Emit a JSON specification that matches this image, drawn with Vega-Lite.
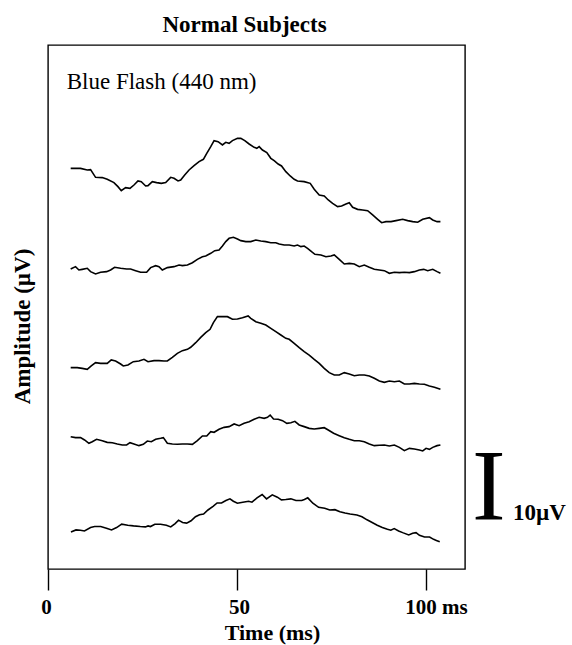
{
  "$schema": "https://vega.github.io/schema/vega-lite/v6.json",
  "width": 417,
  "height": 524,
  "autosize": {"type": "none"},
  "padding": {"left": 48, "top": 45, "right": 107, "bottom": 76},
  "background": "white",
  "config": {
    "view": {"stroke": "black", "strokeWidth": 1.4},
    "font": "Liberation Serif"
  },
  "title": {
    "text": "Normal Subjects",
    "font": "Liberation Serif",
    "fontSize": 23,
    "fontWeight": "bold",
    "color": "black",
    "anchor": "middle",
    "frame": "group",
    "baseline": "alphabetic",
    "offset": 15,
    "dx": -12,
    "dy": 25
  },
  "datasets": {
    "traces": [
      {"trace": 1, "t": 6.0, "v": 60.7}, {"trace": 1, "t": 8.61, "v": 60.7}, {"trace": 1, "t": 10.38, "v": 60.45}, {"trace": 1, "t": 11.26, "v": 60.5},
      {"trace": 1, "t": 12.58, "v": 59.34}, {"trace": 1, "t": 14.35, "v": 59.3}, {"trace": 1, "t": 15.67, "v": 59.04}, {"trace": 1, "t": 17.44, "v": 58.54},
      {"trace": 1, "t": 18.5, "v": 57.93}, {"trace": 1, "t": 19.38, "v": 57.32}, {"trace": 1, "t": 20.53, "v": 57.78}, {"trace": 1, "t": 21.68, "v": 57.68},
      {"trace": 1, "t": 22.74, "v": 58.18}, {"trace": 1, "t": 23.8, "v": 58.79}, {"trace": 1, "t": 24.68, "v": 58.69}, {"trace": 1, "t": 25.83, "v": 58.03},
      {"trace": 1, "t": 26.45, "v": 58.08}, {"trace": 1, "t": 27.59, "v": 58.69}, {"trace": 1, "t": 28.74, "v": 58.54}, {"trace": 1, "t": 29.98, "v": 58.43},
      {"trace": 1, "t": 31.13, "v": 58.54}, {"trace": 1, "t": 32.45, "v": 59.34}, {"trace": 1, "t": 33.33, "v": 59.19}, {"trace": 1, "t": 34.39, "v": 58.79},
      {"trace": 1, "t": 35.1, "v": 58.94}, {"trace": 1, "t": 36.16, "v": 59.7}, {"trace": 1, "t": 37.31, "v": 60.45}, {"trace": 1, "t": 38.63, "v": 61.1},
      {"trace": 1, "t": 39.96, "v": 61.72}, {"trace": 1, "t": 41.1, "v": 62.07}, {"trace": 1, "t": 41.99, "v": 62.98}, {"trace": 1, "t": 43.05, "v": 63.99},
      {"trace": 1, "t": 43.93, "v": 64.9}, {"trace": 1, "t": 44.99, "v": 64.75}, {"trace": 1, "t": 46.14, "v": 64.24}, {"trace": 1, "t": 47.02, "v": 64.65},
      {"trace": 1, "t": 47.9, "v": 64.5}, {"trace": 1, "t": 48.79, "v": 64.9}, {"trace": 1, "t": 50.11, "v": 65.25}, {"trace": 1, "t": 51.0, "v": 65.25},
      {"trace": 1, "t": 52.05, "v": 64.9}, {"trace": 1, "t": 53.2, "v": 64.39}, {"trace": 1, "t": 54.53, "v": 63.89}, {"trace": 1, "t": 55.23, "v": 63.74},
      {"trace": 1, "t": 55.85, "v": 63.99}, {"trace": 1, "t": 56.73, "v": 63.48}, {"trace": 1, "t": 57.88, "v": 63.08}, {"trace": 1, "t": 58.94, "v": 62.22},
      {"trace": 1, "t": 59.82, "v": 61.87}, {"trace": 1, "t": 60.88, "v": 61.36}, {"trace": 1, "t": 61.77, "v": 61.06}, {"trace": 1, "t": 62.91, "v": 60.2},
      {"trace": 1, "t": 64.06, "v": 59.55}, {"trace": 1, "t": 65.12, "v": 59.04}, {"trace": 1, "t": 66.0, "v": 58.79}, {"trace": 1, "t": 67.77, "v": 58.69},
      {"trace": 1, "t": 69.36, "v": 58.43}, {"trace": 1, "t": 70.42, "v": 57.53}, {"trace": 1, "t": 71.74, "v": 56.67}, {"trace": 1, "t": 73.07, "v": 56.52},
      {"trace": 1, "t": 74.13, "v": 55.91}, {"trace": 1, "t": 75.28, "v": 55.4}, {"trace": 1, "t": 76.6, "v": 54.9}, {"trace": 1, "t": 77.66, "v": 55.0},
      {"trace": 1, "t": 78.81, "v": 55.3}, {"trace": 1, "t": 79.69, "v": 55.5}, {"trace": 1, "t": 80.58, "v": 54.8}, {"trace": 1, "t": 81.9, "v": 54.49},
      {"trace": 1, "t": 83.22, "v": 54.39}, {"trace": 1, "t": 84.55, "v": 54.29}, {"trace": 1, "t": 85.87, "v": 53.64}, {"trace": 1, "t": 87.2, "v": 52.98},
      {"trace": 1, "t": 88.25, "v": 52.47}, {"trace": 1, "t": 89.4, "v": 52.63}, {"trace": 1, "t": 90.73, "v": 52.63}, {"trace": 1, "t": 92.05, "v": 52.78},
      {"trace": 1, "t": 93.82, "v": 52.98}, {"trace": 1, "t": 95.14, "v": 52.78}, {"trace": 1, "t": 96.47, "v": 52.63}, {"trace": 1, "t": 97.79, "v": 52.53},
      {"trace": 1, "t": 99.12, "v": 52.98}, {"trace": 1, "t": 100.88, "v": 53.23}, {"trace": 1, "t": 101.77, "v": 52.88}, {"trace": 1, "t": 102.92, "v": 52.63},
      {"trace": 1, "t": 103.8, "v": 52.63},

      {"trace": 2, "t": 6.0, "v": 45.45}, {"trace": 2, "t": 7.28, "v": 45.81}, {"trace": 2, "t": 8.17, "v": 45.3}, {"trace": 2, "t": 9.05, "v": 45.4},
      {"trace": 2, "t": 10.38, "v": 45.56}, {"trace": 2, "t": 11.26, "v": 45.05}, {"trace": 2, "t": 12.58, "v": 44.7}, {"trace": 2, "t": 13.91, "v": 44.95},
      {"trace": 2, "t": 15.5, "v": 45.05}, {"trace": 2, "t": 16.56, "v": 45.3}, {"trace": 2, "t": 17.62, "v": 45.71}, {"trace": 2, "t": 19.21, "v": 45.56},
      {"trace": 2, "t": 20.8, "v": 45.45}, {"trace": 2, "t": 21.85, "v": 45.45}, {"trace": 2, "t": 23.18, "v": 45.2}, {"trace": 2, "t": 24.5, "v": 44.95},
      {"trace": 2, "t": 26.09, "v": 44.95}, {"trace": 2, "t": 27.15, "v": 45.66}, {"trace": 2, "t": 28.48, "v": 45.96}, {"trace": 2, "t": 29.36, "v": 45.81},
      {"trace": 2, "t": 30.24, "v": 45.3}, {"trace": 2, "t": 31.57, "v": 45.66}, {"trace": 2, "t": 33.33, "v": 45.81}, {"trace": 2, "t": 34.66, "v": 46.06},
      {"trace": 2, "t": 35.54, "v": 45.96}, {"trace": 2, "t": 36.87, "v": 46.06}, {"trace": 2, "t": 38.19, "v": 46.41}, {"trace": 2, "t": 39.51, "v": 46.92},
      {"trace": 2, "t": 40.84, "v": 47.32}, {"trace": 2, "t": 41.72, "v": 47.42}, {"trace": 2, "t": 43.05, "v": 47.83}, {"trace": 2, "t": 44.11, "v": 48.23},
      {"trace": 2, "t": 45.25, "v": 48.33}, {"trace": 2, "t": 46.14, "v": 48.94}, {"trace": 2, "t": 47.02, "v": 49.6}, {"trace": 2, "t": 47.9, "v": 50.1},
      {"trace": 2, "t": 49.05, "v": 50.25}, {"trace": 2, "t": 50.11, "v": 50.0}, {"trace": 2, "t": 51.0, "v": 49.75}, {"trace": 2, "t": 52.32, "v": 49.6},
      {"trace": 2, "t": 53.64, "v": 49.6}, {"trace": 2, "t": 54.97, "v": 49.85}, {"trace": 2, "t": 56.29, "v": 49.7}, {"trace": 2, "t": 57.62, "v": 49.6},
      {"trace": 2, "t": 58.94, "v": 49.44}, {"trace": 2, "t": 60.26, "v": 49.44}, {"trace": 2, "t": 61.15, "v": 49.24}, {"trace": 2, "t": 62.47, "v": 49.09},
      {"trace": 2, "t": 63.8, "v": 49.09}, {"trace": 2, "t": 65.12, "v": 48.94}, {"trace": 2, "t": 66.0, "v": 49.09}, {"trace": 2, "t": 66.89, "v": 48.84},
      {"trace": 2, "t": 67.77, "v": 48.94}, {"trace": 2, "t": 68.65, "v": 48.59}, {"trace": 2, "t": 69.71, "v": 48.08}, {"trace": 2, "t": 70.6, "v": 47.68},
      {"trace": 2, "t": 72.19, "v": 47.58}, {"trace": 2, "t": 73.51, "v": 47.32}, {"trace": 2, "t": 74.83, "v": 47.42}, {"trace": 2, "t": 75.72, "v": 47.58},
      {"trace": 2, "t": 77.04, "v": 46.92}, {"trace": 2, "t": 78.37, "v": 46.21}, {"trace": 2, "t": 79.69, "v": 46.31}, {"trace": 2, "t": 81.02, "v": 46.21},
      {"trace": 2, "t": 82.34, "v": 45.81}, {"trace": 2, "t": 83.66, "v": 46.06}, {"trace": 2, "t": 84.99, "v": 45.71}, {"trace": 2, "t": 86.31, "v": 45.4},
      {"trace": 2, "t": 87.64, "v": 45.3}, {"trace": 2, "t": 88.96, "v": 45.2}, {"trace": 2, "t": 90.29, "v": 44.8}, {"trace": 2, "t": 91.61, "v": 44.95},
      {"trace": 2, "t": 92.94, "v": 44.9}, {"trace": 2, "t": 94.26, "v": 44.95}, {"trace": 2, "t": 95.59, "v": 44.9}, {"trace": 2, "t": 96.91, "v": 45.05},
      {"trace": 2, "t": 98.23, "v": 45.3}, {"trace": 2, "t": 99.38, "v": 45.4}, {"trace": 2, "t": 100.44, "v": 45.2}, {"trace": 2, "t": 101.77, "v": 45.4},
      {"trace": 2, "t": 102.92, "v": 45.05}, {"trace": 2, "t": 103.8, "v": 44.8},

      {"trace": 3, "t": 6.0, "v": 30.51}, {"trace": 3, "t": 7.73, "v": 30.51}, {"trace": 3, "t": 9.05, "v": 30.4}, {"trace": 3, "t": 10.38, "v": 30.25},
      {"trace": 3, "t": 11.44, "v": 30.76}, {"trace": 3, "t": 12.58, "v": 31.26}, {"trace": 3, "t": 13.91, "v": 31.16}, {"trace": 3, "t": 15.67, "v": 31.16},
      {"trace": 3, "t": 16.73, "v": 31.67}, {"trace": 3, "t": 17.88, "v": 31.52}, {"trace": 3, "t": 19.21, "v": 31.06}, {"trace": 3, "t": 19.91, "v": 30.76},
      {"trace": 3, "t": 21.15, "v": 30.91}, {"trace": 3, "t": 22.56, "v": 31.41}, {"trace": 3, "t": 24.06, "v": 31.52}, {"trace": 3, "t": 25.39, "v": 31.77},
      {"trace": 3, "t": 26.45, "v": 31.41}, {"trace": 3, "t": 28.04, "v": 31.57}, {"trace": 3, "t": 29.36, "v": 31.57}, {"trace": 3, "t": 30.68, "v": 31.52},
      {"trace": 3, "t": 31.57, "v": 31.52}, {"trace": 3, "t": 32.89, "v": 32.07}, {"trace": 3, "t": 34.22, "v": 32.68}, {"trace": 3, "t": 35.54, "v": 33.08},
      {"trace": 3, "t": 36.87, "v": 33.28}, {"trace": 3, "t": 37.75, "v": 33.59}, {"trace": 3, "t": 39.07, "v": 34.29}, {"trace": 3, "t": 40.4, "v": 35.1},
      {"trace": 3, "t": 41.72, "v": 35.81}, {"trace": 3, "t": 42.87, "v": 36.31}, {"trace": 3, "t": 43.75, "v": 37.32}, {"trace": 3, "t": 44.81, "v": 38.23},
      {"trace": 3, "t": 46.14, "v": 38.23}, {"trace": 3, "t": 47.46, "v": 38.23}, {"trace": 3, "t": 48.79, "v": 37.83}, {"trace": 3, "t": 50.11, "v": 37.88},
      {"trace": 3, "t": 51.43, "v": 38.08}, {"trace": 3, "t": 52.94, "v": 38.33}, {"trace": 3, "t": 53.64, "v": 37.98}, {"trace": 3, "t": 54.97, "v": 37.47},
      {"trace": 3, "t": 56.29, "v": 37.22}, {"trace": 3, "t": 57.62, "v": 36.97}, {"trace": 3, "t": 58.94, "v": 36.46}, {"trace": 3, "t": 60.26, "v": 35.96},
      {"trace": 3, "t": 61.59, "v": 35.45}, {"trace": 3, "t": 62.91, "v": 34.95}, {"trace": 3, "t": 63.8, "v": 34.8}, {"trace": 3, "t": 65.12, "v": 34.19},
      {"trace": 3, "t": 66.45, "v": 33.54}, {"trace": 3, "t": 67.77, "v": 32.93}, {"trace": 3, "t": 69.09, "v": 32.42}, {"trace": 3, "t": 70.42, "v": 31.77},
      {"trace": 3, "t": 71.74, "v": 31.16}, {"trace": 3, "t": 73.07, "v": 30.4}, {"trace": 3, "t": 74.39, "v": 29.75}, {"trace": 3, "t": 75.72, "v": 29.39},
      {"trace": 3, "t": 77.04, "v": 29.39}, {"trace": 3, "t": 78.37, "v": 29.75}, {"trace": 3, "t": 79.69, "v": 29.55}, {"trace": 3, "t": 81.02, "v": 29.29},
      {"trace": 3, "t": 82.34, "v": 29.39}, {"trace": 3, "t": 83.66, "v": 29.39}, {"trace": 3, "t": 84.99, "v": 29.24}, {"trace": 3, "t": 86.31, "v": 28.89},
      {"trace": 3, "t": 87.64, "v": 28.48}, {"trace": 3, "t": 88.96, "v": 28.28}, {"trace": 3, "t": 90.29, "v": 28.48}, {"trace": 3, "t": 91.61, "v": 28.38},
      {"trace": 3, "t": 92.94, "v": 28.48}, {"trace": 3, "t": 94.26, "v": 28.03}, {"trace": 3, "t": 95.59, "v": 28.03}, {"trace": 3, "t": 96.91, "v": 28.13},
      {"trace": 3, "t": 98.23, "v": 28.03}, {"trace": 3, "t": 99.56, "v": 27.98}, {"trace": 3, "t": 100.88, "v": 27.73}, {"trace": 3, "t": 102.21, "v": 27.53},
      {"trace": 3, "t": 103.8, "v": 27.22},

      {"trace": 4, "t": 6.0, "v": 20.05}, {"trace": 4, "t": 7.28, "v": 19.9}, {"trace": 4, "t": 8.61, "v": 19.9}, {"trace": 4, "t": 9.67, "v": 19.55},
      {"trace": 4, "t": 10.82, "v": 19.04}, {"trace": 4, "t": 11.7, "v": 19.29}, {"trace": 4, "t": 12.85, "v": 19.65}, {"trace": 4, "t": 14.35, "v": 19.44},
      {"trace": 4, "t": 15.67, "v": 19.19}, {"trace": 4, "t": 17.0, "v": 19.14}, {"trace": 4, "t": 18.32, "v": 18.94}, {"trace": 4, "t": 19.65, "v": 18.79},
      {"trace": 4, "t": 20.8, "v": 18.79}, {"trace": 4, "t": 21.68, "v": 19.14}, {"trace": 4, "t": 22.74, "v": 18.94}, {"trace": 4, "t": 24.06, "v": 18.69},
      {"trace": 4, "t": 25.21, "v": 18.89}, {"trace": 4, "t": 26.27, "v": 19.39}, {"trace": 4, "t": 27.33, "v": 19.29}, {"trace": 4, "t": 28.48, "v": 19.65},
      {"trace": 4, "t": 29.8, "v": 19.8}, {"trace": 4, "t": 30.51, "v": 19.9}, {"trace": 4, "t": 31.57, "v": 19.04}, {"trace": 4, "t": 32.89, "v": 18.94},
      {"trace": 4, "t": 34.22, "v": 18.89}, {"trace": 4, "t": 35.54, "v": 18.94}, {"trace": 4, "t": 36.87, "v": 18.94}, {"trace": 4, "t": 38.19, "v": 18.89},
      {"trace": 4, "t": 39.51, "v": 19.44}, {"trace": 4, "t": 40.84, "v": 20.15}, {"trace": 4, "t": 41.99, "v": 20.15}, {"trace": 4, "t": 43.05, "v": 20.81},
      {"trace": 4, "t": 43.93, "v": 20.71}, {"trace": 4, "t": 45.25, "v": 21.16}, {"trace": 4, "t": 46.58, "v": 21.46}, {"trace": 4, "t": 47.9, "v": 21.57},
      {"trace": 4, "t": 49.23, "v": 21.97}, {"trace": 4, "t": 50.55, "v": 21.72}, {"trace": 4, "t": 51.88, "v": 22.07}, {"trace": 4, "t": 53.2, "v": 22.32},
      {"trace": 4, "t": 54.53, "v": 22.68}, {"trace": 4, "t": 55.85, "v": 22.98}, {"trace": 4, "t": 57.17, "v": 22.83}, {"trace": 4, "t": 58.06, "v": 22.98},
      {"trace": 4, "t": 58.76, "v": 23.33}, {"trace": 4, "t": 59.65, "v": 22.73}, {"trace": 4, "t": 60.88, "v": 22.68}, {"trace": 4, "t": 62.03, "v": 22.47},
      {"trace": 4, "t": 63.18, "v": 22.07}, {"trace": 4, "t": 64.24, "v": 22.17}, {"trace": 4, "t": 65.3, "v": 22.37}, {"trace": 4, "t": 66.45, "v": 21.82},
      {"trace": 4, "t": 67.77, "v": 21.57}, {"trace": 4, "t": 69.09, "v": 21.31}, {"trace": 4, "t": 70.42, "v": 21.21}, {"trace": 4, "t": 71.74, "v": 21.31},
      {"trace": 4, "t": 73.07, "v": 21.41}, {"trace": 4, "t": 74.13, "v": 21.06}, {"trace": 4, "t": 75.54, "v": 20.56}, {"trace": 4, "t": 77.04, "v": 20.2},
      {"trace": 4, "t": 78.37, "v": 19.9}, {"trace": 4, "t": 79.69, "v": 19.65}, {"trace": 4, "t": 81.02, "v": 19.44}, {"trace": 4, "t": 82.34, "v": 19.44},
      {"trace": 4, "t": 83.66, "v": 19.29}, {"trace": 4, "t": 84.99, "v": 18.94}, {"trace": 4, "t": 86.31, "v": 18.69}, {"trace": 4, "t": 87.64, "v": 18.74},
      {"trace": 4, "t": 88.96, "v": 18.79}, {"trace": 4, "t": 90.29, "v": 18.64}, {"trace": 4, "t": 91.61, "v": 18.79}, {"trace": 4, "t": 92.94, "v": 18.43},
      {"trace": 4, "t": 94.26, "v": 17.93}, {"trace": 4, "t": 95.59, "v": 18.28}, {"trace": 4, "t": 96.91, "v": 18.18}, {"trace": 4, "t": 98.23, "v": 18.03},
      {"trace": 4, "t": 99.12, "v": 17.88}, {"trace": 4, "t": 100.0, "v": 18.28}, {"trace": 4, "t": 100.88, "v": 18.13}, {"trace": 4, "t": 101.77, "v": 18.43},
      {"trace": 4, "t": 102.92, "v": 18.69}, {"trace": 4, "t": 103.8, "v": 18.79},

      {"trace": 5, "t": 6.07, "v": 5.61}, {"trace": 5, "t": 7.41, "v": 5.92}, {"trace": 5, "t": 8.57, "v": 5.87}, {"trace": 5, "t": 9.65, "v": 5.77},
      {"trace": 5, "t": 11.26, "v": 6.28}, {"trace": 5, "t": 12.33, "v": 6.43}, {"trace": 5, "t": 13.94, "v": 6.43}, {"trace": 5, "t": 15.46, "v": 6.18},
      {"trace": 5, "t": 16.81, "v": 5.92}, {"trace": 5, "t": 18.15, "v": 6.28}, {"trace": 5, "t": 19.49, "v": 6.79}, {"trace": 5, "t": 21.1, "v": 6.64},
      {"trace": 5, "t": 22.63, "v": 6.53}, {"trace": 5, "t": 24.41, "v": 6.43}, {"trace": 5, "t": 25.76, "v": 6.38}, {"trace": 5, "t": 26.47, "v": 6.53},
      {"trace": 5, "t": 27.1, "v": 6.43}, {"trace": 5, "t": 28.26, "v": 6.79}, {"trace": 5, "t": 29.78, "v": 6.79}, {"trace": 5, "t": 31.31, "v": 6.64},
      {"trace": 5, "t": 32.47, "v": 6.38}, {"trace": 5, "t": 33.63, "v": 6.89}, {"trace": 5, "t": 34.53, "v": 7.4}, {"trace": 5, "t": 35.6, "v": 7.05},
      {"trace": 5, "t": 36.68, "v": 6.95}, {"trace": 5, "t": 37.84, "v": 7.3}, {"trace": 5, "t": 39.01, "v": 7.92}, {"trace": 5, "t": 40.08, "v": 8.22},
      {"trace": 5, "t": 41.15, "v": 8.33}, {"trace": 5, "t": 42.32, "v": 8.94}, {"trace": 5, "t": 43.66, "v": 9.5}, {"trace": 5, "t": 44.73, "v": 10.01},
      {"trace": 5, "t": 45.9, "v": 10.01}, {"trace": 5, "t": 47.06, "v": 10.37}, {"trace": 5, "t": 48.13, "v": 10.63}, {"trace": 5, "t": 49.03, "v": 10.27},
      {"trace": 5, "t": 50.1, "v": 9.96}, {"trace": 5, "t": 51.53, "v": 10.12}, {"trace": 5, "t": 53.06, "v": 10.27}, {"trace": 5, "t": 53.95, "v": 10.12},
      {"trace": 5, "t": 55.29, "v": 10.78}, {"trace": 5, "t": 56.64, "v": 11.29}, {"trace": 5, "t": 57.8, "v": 10.63}, {"trace": 5, "t": 59.32, "v": 11.24},
      {"trace": 5, "t": 60.67, "v": 10.88}, {"trace": 5, "t": 61.74, "v": 10.48}, {"trace": 5, "t": 62.9, "v": 10.53}, {"trace": 5, "t": 64.24, "v": 10.63},
      {"trace": 5, "t": 65.58, "v": 10.37}, {"trace": 5, "t": 67.1, "v": 10.37}, {"trace": 5, "t": 67.82, "v": 10.53}, {"trace": 5, "t": 68.71, "v": 10.78},
      {"trace": 5, "t": 70.06, "v": 9.96}, {"trace": 5, "t": 71.58, "v": 9.35}, {"trace": 5, "t": 73.19, "v": 9.2}, {"trace": 5, "t": 74.53, "v": 8.94},
      {"trace": 5, "t": 75.88, "v": 8.99}, {"trace": 5, "t": 77.22, "v": 8.68}, {"trace": 5, "t": 78.56, "v": 8.48}, {"trace": 5, "t": 79.91, "v": 8.33},
      {"trace": 5, "t": 81.7, "v": 8.17}, {"trace": 5, "t": 83.05, "v": 7.92}, {"trace": 5, "t": 84.39, "v": 7.45}, {"trace": 5, "t": 85.74, "v": 7.05},
      {"trace": 5, "t": 87.09, "v": 6.64}, {"trace": 5, "t": 88.43, "v": 6.28}, {"trace": 5, "t": 89.78, "v": 6.02}, {"trace": 5, "t": 90.68, "v": 5.87},
      {"trace": 5, "t": 91.57, "v": 6.12}, {"trace": 5, "t": 92.74, "v": 5.77}, {"trace": 5, "t": 93.81, "v": 5.51}, {"trace": 5, "t": 95.42, "v": 5.15},
      {"trace": 5, "t": 96.46, "v": 5.41}, {"trace": 5, "t": 97.35, "v": 5.51}, {"trace": 5, "t": 98.25, "v": 5.1}, {"trace": 5, "t": 99.59, "v": 4.84},
      {"trace": 5, "t": 100.93, "v": 4.84}, {"trace": 5, "t": 102.0, "v": 4.49}, {"trace": 5, "t": 102.72, "v": 4.33}, {"trace": 5, "t": 103.62, "v": 4.13}
    ],
    "one": [{"n": 1}]
  },
  "layer": [
    {
      "data": {"name": "traces"},
      "mark": {"type": "line", "color": "black", "strokeWidth": 1.6},
      "encoding": {
        "x": {
          "field": "t",
          "type": "quantitative",
          "scale": {"domain": [0, 110.3], "nice": false, "zero": false},
          "axis": {
            "values": [0, 50, 100],
            "labelExpr": "datum.value == 100 ? '100 ms' : datum.label",
            "domain": false,
            "grid": false,
            "ticks": true,
            "tickSize": 21,
            "tickWidth": 1.4,
            "tickColor": "black",
            "labelFont": "Liberation Serif",
            "labelFontSize": 21,
            "labelFontWeight": "bold",
            "labelColor": "black",
            "labelPadding": 6,
            "labelFlush": false,
            "labelOverlap": false,
            "labelOffset": {"condition": [{"test": "datum.value == 0", "value": -2}, {"test": "datum.value == 50", "value": 2}], "value": 10},
            "title": "Time (ms)",
            "titleFont": "Liberation Serif",
            "titleFontSize": 22,
            "titleFontWeight": "bold",
            "titleColor": "black",
            "titleX": 224,
            "titleY": 70,
            "titleAlign": "center",
            "titleBaseline": "alphabetic"
          }
        },
        "y": {
          "field": "v",
          "type": "quantitative",
          "scale": {"domain": [0, 79.39], "nice": false, "zero": false},
          "axis": {
            "domain": false,
            "grid": false,
            "ticks": false,
            "labels": false,
            "title": "Amplitude (µV)",
            "titleFont": "Liberation Serif",
            "titleFontSize": 23,
            "titleFontWeight": "bold",
            "titleColor": "black",
            "titleX": -19,
            "titleY": 281,
            "titleAngle": -90,
            "titleAlign": "center",
            "titleBaseline": "alphabetic"
          }
        },
        "detail": {"field": "trace", "type": "nominal"}
      }
    },
    {
      "data": {"name": "one"},
      "mark": {"type": "text", "text": "Blue Flash (440 nm)", "font": "Liberation Serif", "fontSize": 23, "align": "left", "baseline": "alphabetic", "color": "black"},
      "encoding": {"x": {"datum": 4.95}, "y": {"datum": 72.7}}
    },
    {
      "data": {"name": "one"},
      "mark": {"type": "text", "text": "I", "font": "Liberation Serif", "fontSize": 101, "align": "center", "baseline": "alphabetic", "color": "black"},
      "encoding": {"x": {"datum": 116.6}, "y": {"datum": 7.42}}
    },
    {
      "data": {"name": "one"},
      "mark": {"type": "text", "text": "10µV", "font": "Liberation Serif", "fontSize": 23, "fontWeight": "bold", "align": "left", "baseline": "alphabetic", "color": "black"},
      "encoding": {"x": {"datum": 123.0}, "y": {"datum": 7.42}}
    }
  ]
}
